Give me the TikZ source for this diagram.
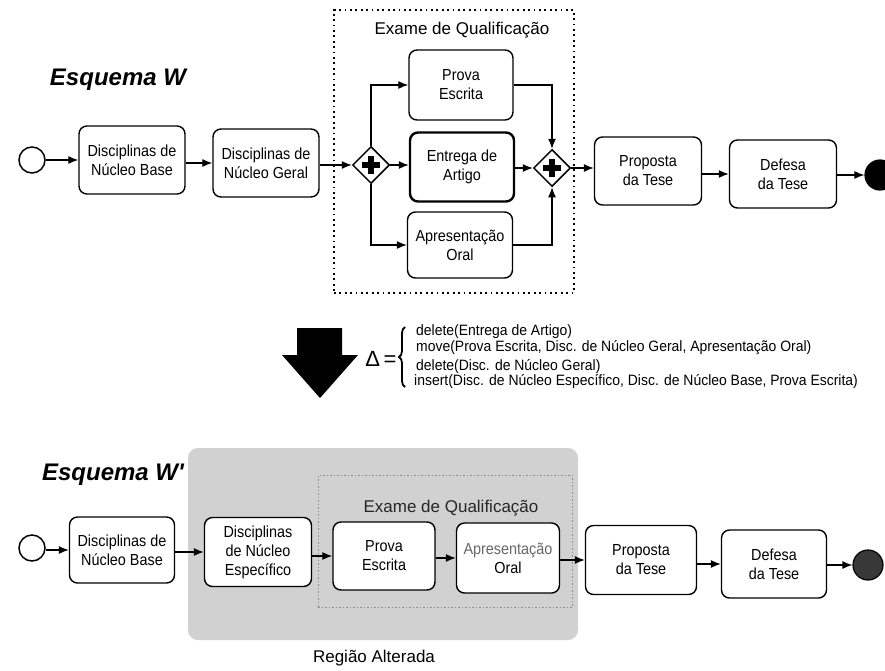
\documentclass[tikz,border=0pt]{standalone}
\usepackage{fontspec}
\setmainfont{Liberation Sans}
\newfontfamily\boxfont[FakeStretch=0.9]{Liberation Sans}
\newfontfamily\opfont[FakeStretch=0.93]{Liberation Sans}
\usetikzlibrary{arrows.meta,shapes.geometric,decorations.pathreplacing}

\tikzset{
  task/.style={draw, rounded corners=8pt, line width=1.4pt, fill=white,
    minimum width=106pt, minimum height=68pt, inner sep=2pt, align=center,
    font=\boxfont\fontsize{16}{19}\selectfont},
  gate/.style={draw, diamond, shape aspect=1, line width=1.5pt, fill=white,
    minimum size=37pt, inner sep=0pt},
  plusbar/.style={line width=5.5pt},
  startev/.style={draw, circle, line width=1.5pt, fill=white, minimum size=26pt, inner sep=0pt},
  endev/.style={draw, circle, line width=1.2pt, minimum size=30pt, inner sep=0pt},
  arr/.style={-{Latex[length=10pt,width=8pt]}, line width=1.2pt},
  container/.style={draw, line width=1.8pt, dash pattern=on 1.8pt off 3.6pt},
  title/.style={font=\fontsize{24}{28}\selectfont\bfseries\itshape},
  exlabel/.style={font=\fontsize{17}{20}\selectfont},
  delta/.style={anchor=west, inner sep=0pt, font=\opfont\fontsize{15}{16}\selectfont}
}

\begin{document}
\begin{tikzpicture}[x=1pt, y=-1pt]
\useasboundingbox (0,0) rectangle (885,670);
\clip (0,0) rectangle (885,670);
\fill[white] (0,0) rectangle (885,670);

% ---------- original schema W ----------
\node[title] (tw) at (118,80) {Esquema W};

\node[container, minimum width=240pt, minimum height=283pt] (exam) at (454,151.5) {};
\node[exlabel] (examlbl) at (462,30) {Exame de Qualificação};

\node[startev] (s1) at (32,160) {};
\node[task] (base) at (132,160) {Disciplinas de\\Núcleo Base};
\node[task] (geral) at (266,163) {Disciplinas de\\Núcleo Geral};
\node[gate] (g1) at (371,165) {};
\node[task, minimum width=104pt, minimum height=70pt] (prova) at (461,85) {Prova\\Escrita};
\node[task, minimum width=104pt, minimum height=69pt, line width=2.4pt] (entrega) at (462,167) {Entrega de\\Artigo};
\node[task, minimum width=105pt, minimum height=66pt] (apres) at (460,245) {Apresentação\\Oral};
\node[gate] (g2) at (552,168) {};
\node[task, minimum width=107pt] (prop) at (648,171) {Proposta\\da Tese};
\node[task, minimum width=107pt] (def) at (783,174) {Defesa\\da Tese};
\node[endev, fill=black] (e1) at (880,175) {};

\foreach \g in {g1,g2}{
  \draw[plusbar] ([xshift=-9pt]\g.center) -- ([xshift=9pt]\g.center);
  \draw[plusbar] ([yshift=-9pt]\g.center) -- ([yshift=9pt]\g.center);
}

\draw[arr] (s1.east |- base.west) -- (base.west);
\draw[arr] (base.east |- geral.west) -- (geral.west);
\draw[arr] (geral.east |- g1.west) -- (g1.west);
\draw[arr] (g1.north) |- (prova.west);
\draw[arr] (g1.east) -- (g1.east -| entrega.west);
\draw[arr] (g1.south) |- (apres.west);
\draw[arr] (prova.east) -| (g2.north);
\draw[arr] (entrega.east |- g2.west) -- (g2.west);
\draw[arr] (apres.east) -| (g2.south);
\draw[arr] (g2.east) -- (g2.east -| prop.west);
\draw[arr] (prop.east |- def.west) -- (def.west);
\draw[arr] (def.east |- e1.west) -- (e1.west);

% ---------- change operations ----------
\fill[black] (297,328) -- (342,328) -- (342,355) -- (358,355) -- (320,398)
  -- (282,355) -- (297,355) -- cycle;
\node[font=\fontsize{22}{24}\selectfont, inner sep=0pt] (dlt) at (381,359) {Δ\,=};
\draw[line width=1.8pt, decorate, decoration={brace, amplitude=6pt}]
  (405,387) -- (405,327);
\node[delta] (d1) at (416,332) {delete(Entrega de Artigo)};
\node[delta] (d2) at (416,348) {move(Prova Escrita, Disc. de Núcleo Geral, Apresentação Oral)};
\node[delta] (d3) at (416,367) {delete(Disc. de Núcleo Geral)};
\node[delta] (d4) at (414,382) {insert(Disc. de Núcleo Específico, Disc. de Núcleo Base, Prova Escrita)};

% ---------- changed schema W' ----------
\node[title] (tw2) at (113,475) {Esquema W\textquotesingle};

\node[fill=black!18, rounded corners=10pt, minimum width=390pt, minimum height=192pt,
  inner sep=0pt] (reg) at (383,544) {};
\node[draw=black!45, line width=1pt, dash pattern=on 1.5pt off 2pt,
  minimum width=254pt, minimum height=132pt, inner sep=0pt] (exam2) at (445,541) {};
\node[exlabel, text=black!85] (examlbl2) at (451,508) {Exame de Qualificação};
\node[exlabel] (reglbl) at (374,658) {Região Alterada};

\node[startev] (s2) at (32,548) {};
\node[task, minimum width=105pt, minimum height=66pt] (base2) at (122,550) {Disciplinas de\\Núcleo Base};
\node[task, minimum width=107pt, minimum height=69pt] (esp) at (258,552) {Disciplinas\\de Núcleo\\Específico};
\node[task, minimum width=102pt] (prova2) at (384,556) {Prova\\Escrita};
\node[task, minimum width=103pt, minimum height=70pt] (apres2) at (508,558) {\textcolor{black!60}{Apresentação}\\Oral};
\node[task, minimum width=111pt, minimum height=69pt] (prop2) at (641,560) {Proposta\\da Tese};
\node[task, minimum width=105pt] (def2) at (774,564) {Defesa\\da Tese};
\node[endev, fill=black!78] (e2) at (868,565) {};

\draw[arr] (s2.east |- base2.west) -- (base2.west);
\draw[arr] (base2.east |- esp.west) -- (esp.west);
\draw[arr] (esp.east |- prova2.west) -- (prova2.west);
\draw[arr] (prova2.east |- apres2.west) -- (apres2.west);
\draw[arr] (apres2.east |- prop2.west) -- (prop2.west);
\draw[arr] (prop2.east |- def2.west) -- (def2.west);
\draw[arr] (def2.east |- e2.west) -- (e2.west);
\end{tikzpicture}
\end{document}
